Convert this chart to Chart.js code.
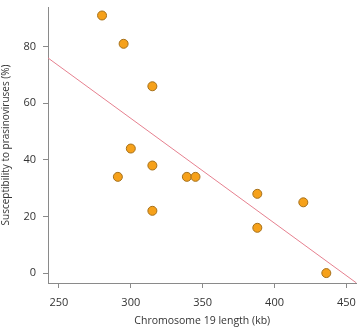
<!DOCTYPE html>
<html lang="en">
<head>
    <meta charset="utf-8" />
    <title>Chromosome 19 length vs susceptibility</title>
    <style>
        html, body { margin: 0; padding: 0; background: #fff; overflow: hidden; }
        #wrap { width: 362px; height: 327px; position: relative; }
    </style>
</head>
<body>
    <div id="wrap">
        <canvas id="scatterChart" width="362" height="327"></canvas>
    </div>
    <script src="https://cdn.jsdelivr.net/npm/chart.js"></script>
    <script>
        // data
        var chromLength = [280, 295, 315, 300, 315, 291, 315, 339, 345, 388, 420, 388, 436];
        var susceptibility = [91, 81, 66, 44, 38, 34, 22, 34, 34, 28, 25, 16, 0];
        // fitted line end points
        var fitX = [242.4, 457];
        var fitY = [76, -3.5];
        var xTicks = [250, 300, 350, 400, 450];
        var yTicks = [0, 20, 40, 60, 80];

        var points = chromLength.map((v, i) => ({ x: v, y: susceptibility[i] }));
        var fitLine = fitX.map((v, i) => ({ x: v, y: fitY[i] }));

        var font = "'Open Sans', 'Liberation Sans', sans-serif";

        var ctx = document.getElementById('scatterChart').getContext('2d');
        var myChart = new Chart(ctx, {
            type: 'scatter',
            data: {
                datasets: [{
                    type: 'line',
                    data: fitLine,
                    borderColor: '#e6808f',
                    borderWidth: 1,
                    pointRadius: 0,
                    fill: false
                }, {
                    data: points,
                    backgroundColor: '#f6a11a',
                    borderColor: '#a5701a',
                    borderWidth: 1,
                    pointRadius: 4.5
                }]
            },
            options: {
                responsive: false,
                animation: false,
                layout: { padding: { top: 7, right: 4, left: 0, bottom: 0 } },
                plugins: {
                    legend: { display: false },
                    tooltip: { enabled: false }
                },
                scales: {
                    x: {
                        type: 'linear',
                        min: 242.4,
                        max: 457,
                        afterBuildTicks: scale => { scale.ticks = xTicks.map(v => ({ value: v })); },
                        afterFit: scale => {
                            scale.height = 44;
                            scale.paddingLeft = 0;
                            scale.paddingRight = 0;
                        },
                        border: { color: '#8a8a8a', width: 1 },
                        grid: { drawOnChartArea: false, drawTicks: true, tickLength: 5, color: '#8a8a8a' },
                        ticks: { color: '#333', font: { family: font, size: 11 }, padding: 8 },
                        title: {
                            display: true,
                            text: 'Chromosome 19 length (kb)',
                            color: '#333',
                            font: { family: font, size: 10.5 },
                            padding: { top: 2, bottom: 0 }
                        }
                    },
                    y: {
                        type: 'linear',
                        min: -3.5,
                        max: 94,
                        afterBuildTicks: scale => { scale.ticks = yTicks.map(v => ({ value: v })); },
                        afterFit: scale => {
                            scale.width = 48;
                            scale.paddingTop = 0;
                            scale.paddingBottom = 0;
                        },
                        border: { color: '#8a8a8a', width: 1 },
                        grid: { drawOnChartArea: false, drawTicks: true, tickLength: 5, color: '#8a8a8a' },
                        ticks: { color: '#333', font: { family: font, size: 11 }, padding: 7 },
                        title: {
                            display: true,
                            text: 'Susceptibility to prasinoviruses (%)',
                            color: '#333',
                            font: { family: font, size: 10 },
                            padding: { top: 0, bottom: 0 }
                        }
                    }
                }
            }
        });
    </script>
</body>
</html>
